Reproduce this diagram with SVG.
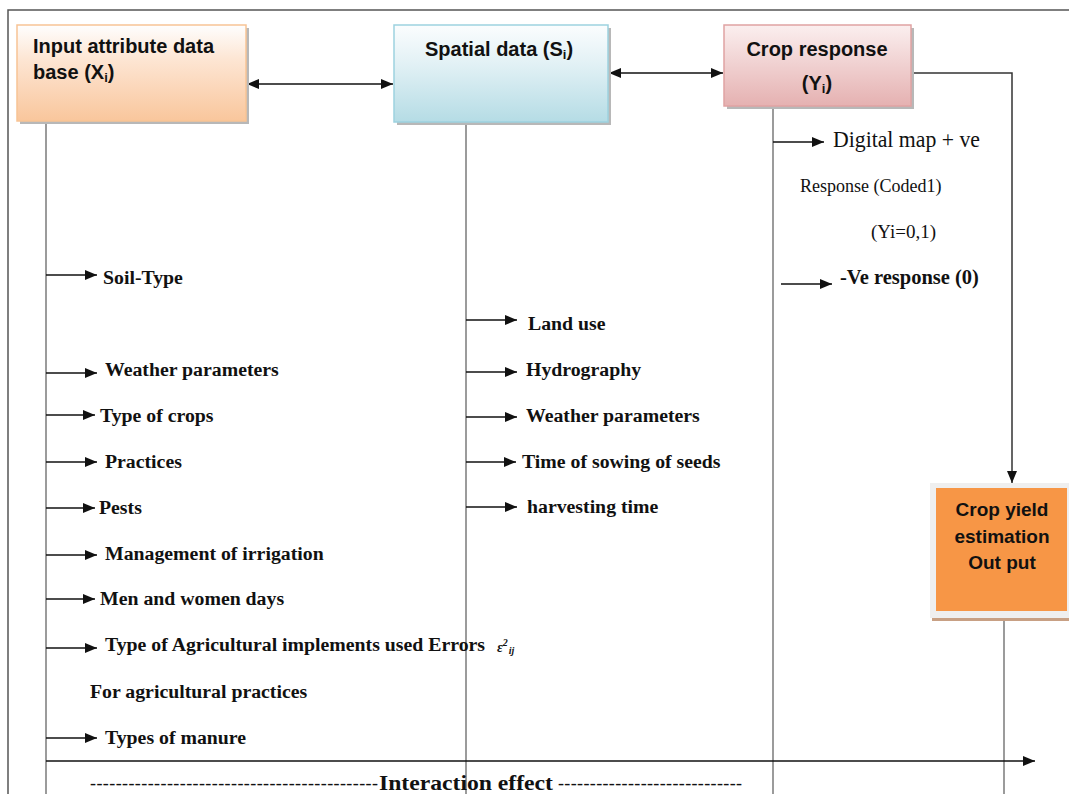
<svg xmlns="http://www.w3.org/2000/svg" width="1069" height="794" viewBox="0 0 1069 794">
<style>
.frame{stroke:#555;stroke-width:1.5;fill:none}
.vl{stroke:#7a7a7a;stroke-width:1.5;fill:none}
.ar{stroke:#111;stroke-width:1.5;fill:none;marker-end:url(#ah)}
.da{stroke:#111;stroke-width:1.5;fill:none;marker-end:url(#ah);marker-start:url(#ah)}
.hd{font-family:"Liberation Sans","Open Sans",sans-serif;font-weight:bold;font-size:20px;fill:#111}
.bt{font-family:"Liberation Serif","Times New Roman",serif;font-weight:bold;font-size:19.8px;fill:#111}
.rt{font-family:"Liberation Serif","Times New Roman",serif;font-size:18px;fill:#111}
.sh{fill:#b8b8b8}
</style>
<defs>
<marker id="ah" markerUnits="userSpaceOnUse" markerWidth="13" markerHeight="11" refX="12" refY="5.5" orient="auto-start-reverse"><path d="M0,0.5 L12,5.5 L0,10.5 z" fill="#111"/></marker>
<linearGradient id="gOr" x1="0" y1="0" x2="0" y2="1"><stop offset="0" stop-color="#fefefe"/><stop offset="0.35" stop-color="#fde6d4"/><stop offset="1" stop-color="#f9c69c"/></linearGradient>
<linearGradient id="gBl" x1="0" y1="0" x2="0" y2="1"><stop offset="0" stop-color="#fbfdfe"/><stop offset="0.4" stop-color="#e2f1f5"/><stop offset="1" stop-color="#b5dce5"/></linearGradient>
<linearGradient id="gPk" x1="0" y1="0" x2="0" y2="1"><stop offset="0" stop-color="#fbefef"/><stop offset="0.4" stop-color="#f2d6d6"/><stop offset="1" stop-color="#e5b1b1"/></linearGradient>
</defs>
<rect width="1069" height="794" fill="#fff"/>
<path class="frame" d="M8,794 L8,10 L1069,10"/>

<g id="connectors">
<path class="vl" d="M46,121 V794"/>
<path class="vl" d="M466,122 V794"/>
<path class="vl" d="M773,106 V794"/>
<path class="vl" d="M1004,611 V794"/>
<path class="da" d="M247,84 H393"/>
<path class="da" d="M609,73 H723"/>
<path class="ar" style="stroke:#333" d="M911,73 H1012 V483"/>
<path class="ar" d="M46,761 H1035"/>
<path class="ar" d="M46,275 H97"/>
<path class="ar" d="M46,373 H97"/>
<path class="ar" d="M46,415 H95"/>
<path class="ar" d="M46,462 H97"/>
<path class="ar" d="M46,508 H95"/>
<path class="ar" d="M46,555 H97"/>
<path class="ar" d="M46,599 H95"/>
<path class="ar" d="M46,648 H97"/>
<path class="ar" d="M46,738 H97"/>
<path class="ar" d="M466,320 H517"/>
<path class="ar" d="M466,372 H517"/>
<path class="ar" d="M466,417 H517"/>
<path class="ar" d="M466,462 H516"/>
<path class="ar" d="M466,507 H517"/>
<path class="ar" d="M773,142 H824"/>
<path class="ar" d="M781,284 H832"/>
</g>

<g id="node-input">
<rect class="sh" x="20" y="28" width="229" height="96"/>
<rect x="17" y="25" width="229" height="96" fill="url(#gOr)" stroke="#f8c495" stroke-width="1.5"/>
<text class="hd" x="33" y="53" textLength="181" lengthAdjust="spacingAndGlyphs">Input attribute data</text>
<text class="hd" x="33" y="79">base (X<tspan style="font-size:13px" dy="3">i</tspan><tspan dy="-3">)</tspan></text>
</g>

<g id="node-spatial">
<rect class="sh" x="397" y="28" width="214" height="97"/>
<rect x="394" y="25" width="214" height="97" fill="url(#gBl)" stroke="#9dd2df" stroke-width="1.5"/>
<text class="hd" x="425" y="56">Spatial data (S<tspan style="font-size:13px" dy="3">i</tspan><tspan dy="-3">)</tspan></text>
</g>

<g id="node-crop-response">
<rect class="sh" x="727" y="28" width="187" height="81"/>
<rect x="724" y="25" width="187" height="81" fill="url(#gPk)" stroke="#e0a3a3" stroke-width="1.5"/>
<text class="hd" x="817" y="56" text-anchor="middle">Crop response</text>
<text class="hd" x="817" y="90" text-anchor="middle">(Y<tspan style="font-size:13px" dy="3">i</tspan><tspan dy="-3">)</tspan></text>
</g>

<g id="node-yield">
<rect x="932" y="617" width="137" height="4" fill="#c8a084"/>
<rect x="930" y="483" width="139" height="135" fill="#efefef"/>
<rect x="936" y="488" width="131" height="123" fill="#f79646"/>
<text class="hd" x="1002" y="516" text-anchor="middle" style="font-size:19px">Crop yield</text>
<text class="hd" x="1002" y="543" text-anchor="middle" style="font-size:19px">estimation</text>
<text class="hd" x="1002" y="569" text-anchor="middle" style="font-size:19px">Out put</text>
</g>

<g id="labels-input">
<text class="bt" x="103" y="284">Soil-Type</text>
<text class="bt" x="105" y="376">Weather parameters</text>
<text class="bt" x="100" y="422">Type of crops</text>
<text class="bt" x="105" y="468">Practices</text>
<text class="bt" x="99" y="514">Pests</text>
<text class="bt" x="105" y="560">Management of irrigation</text>
<text class="bt" x="100" y="605">Men and women days</text>
<text class="bt" x="105" y="651">Type of Agricultural implements used Errors</text>
<text x="497" y="652" font-family="Liberation Serif,serif" font-weight="bold" font-style="italic" font-size="14" fill="#111">ε<tspan font-size="10" dy="-6">2</tspan><tspan font-size="10" dy="8" dx="1">ij</tspan></text>
<text class="bt" x="90" y="698">For agricultural practices</text>
<text class="bt" x="105" y="744">Types of manure</text>
</g>

<g id="labels-spatial">
<text class="bt" x="528" y="330">Land use</text>
<text class="bt" x="526" y="376">Hydrography</text>
<text class="bt" x="526" y="422">Weather parameters</text>
<text class="bt" x="522" y="468">Time of sowing of seeds</text>
<text class="bt" x="527" y="513">harvesting time</text>
</g>

<g id="labels-response">
<text class="rt" x="833" y="147" style="font-size:23px" textLength="147" lengthAdjust="spacingAndGlyphs">Digital map + ve</text>
<text class="rt" x="800" y="192">Response (Coded1)</text>
<text class="rt" x="871" y="238" style="font-size:19px">(Yi=0,1)</text>
<text class="bt" x="840" y="284" style="font-size:20.5px">-Ve response (0)</text>
</g>

<g id="interaction">
<text class="rt" x="90" y="789" textLength="288" lengthAdjust="spacing">---------------------------------------------</text>
<text class="bt" x="379" y="790" style="font-size:22px" textLength="174" lengthAdjust="spacingAndGlyphs">Interaction effect</text>
<text class="rt" x="558" y="789" textLength="184" lengthAdjust="spacing">-----------------------------</text>
</g>
</svg>
